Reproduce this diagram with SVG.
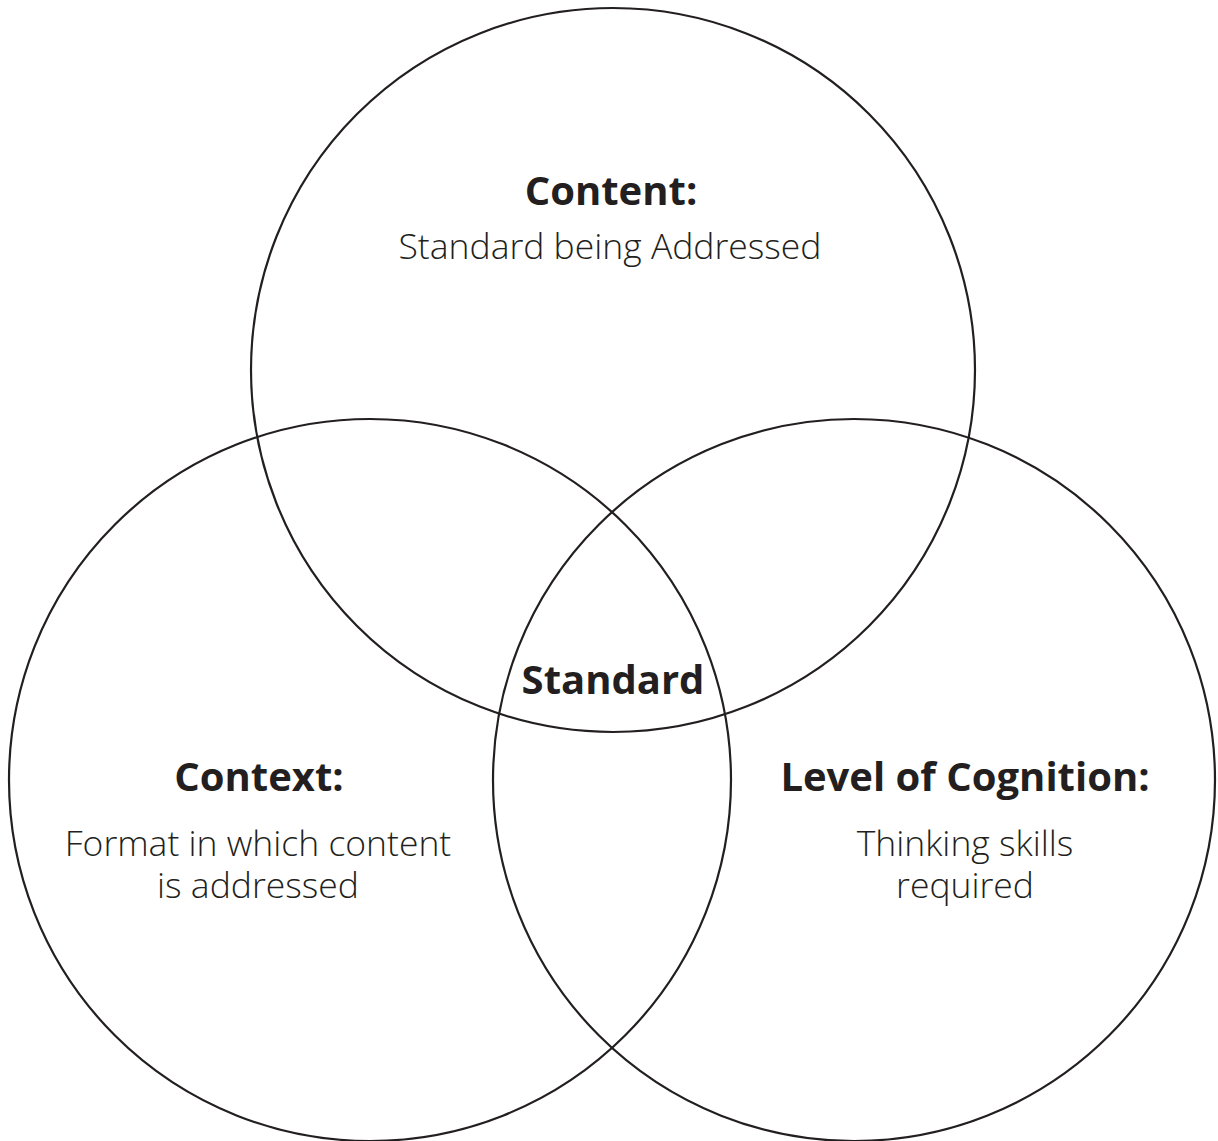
<svg xmlns="http://www.w3.org/2000/svg" width="1218" height="1141" viewBox="0 0 1218 1141">
<style>
.c{fill:none;stroke:#231f20;stroke-width:2.2}
.h{font-family:"Open Sans","Noto Sans",sans-serif;font-weight:bold;font-size:40px;fill:#231f20;text-anchor:middle}
.b{font-family:"Open Sans","Noto Sans",sans-serif;font-weight:300;font-size:35.5px;fill:#231f20;text-anchor:middle}
</style>
<rect width="1218" height="1141" fill="#fff"/>
<g id="content">
<circle class="c" cx="613" cy="370" r="362"/>
<text class="h" x="611" y="205">Content:</text>
<text class="b" x="610" y="259">Standard being Addressed</text>
</g>
<g id="context">
<circle class="c" cx="370" cy="780" r="361"/>
<text class="h" x="259" y="791">Context:</text>
<text class="b" x="258" y="856">Format in which content</text>
<text class="b" x="258" y="898">is addressed</text>
</g>
<g id="cognition">
<circle class="c" cx="854" cy="780" r="361"/>
<text class="h" x="965" y="791">Level of Cognition:</text>
<text class="b" x="965" y="856">Thinking skills</text>
<text class="b" x="965" y="898">required</text>
</g>
<g id="standard">
<text class="h" x="613" y="694">Standard</text>
</g>
<g id="connectors"></g>
</svg>
